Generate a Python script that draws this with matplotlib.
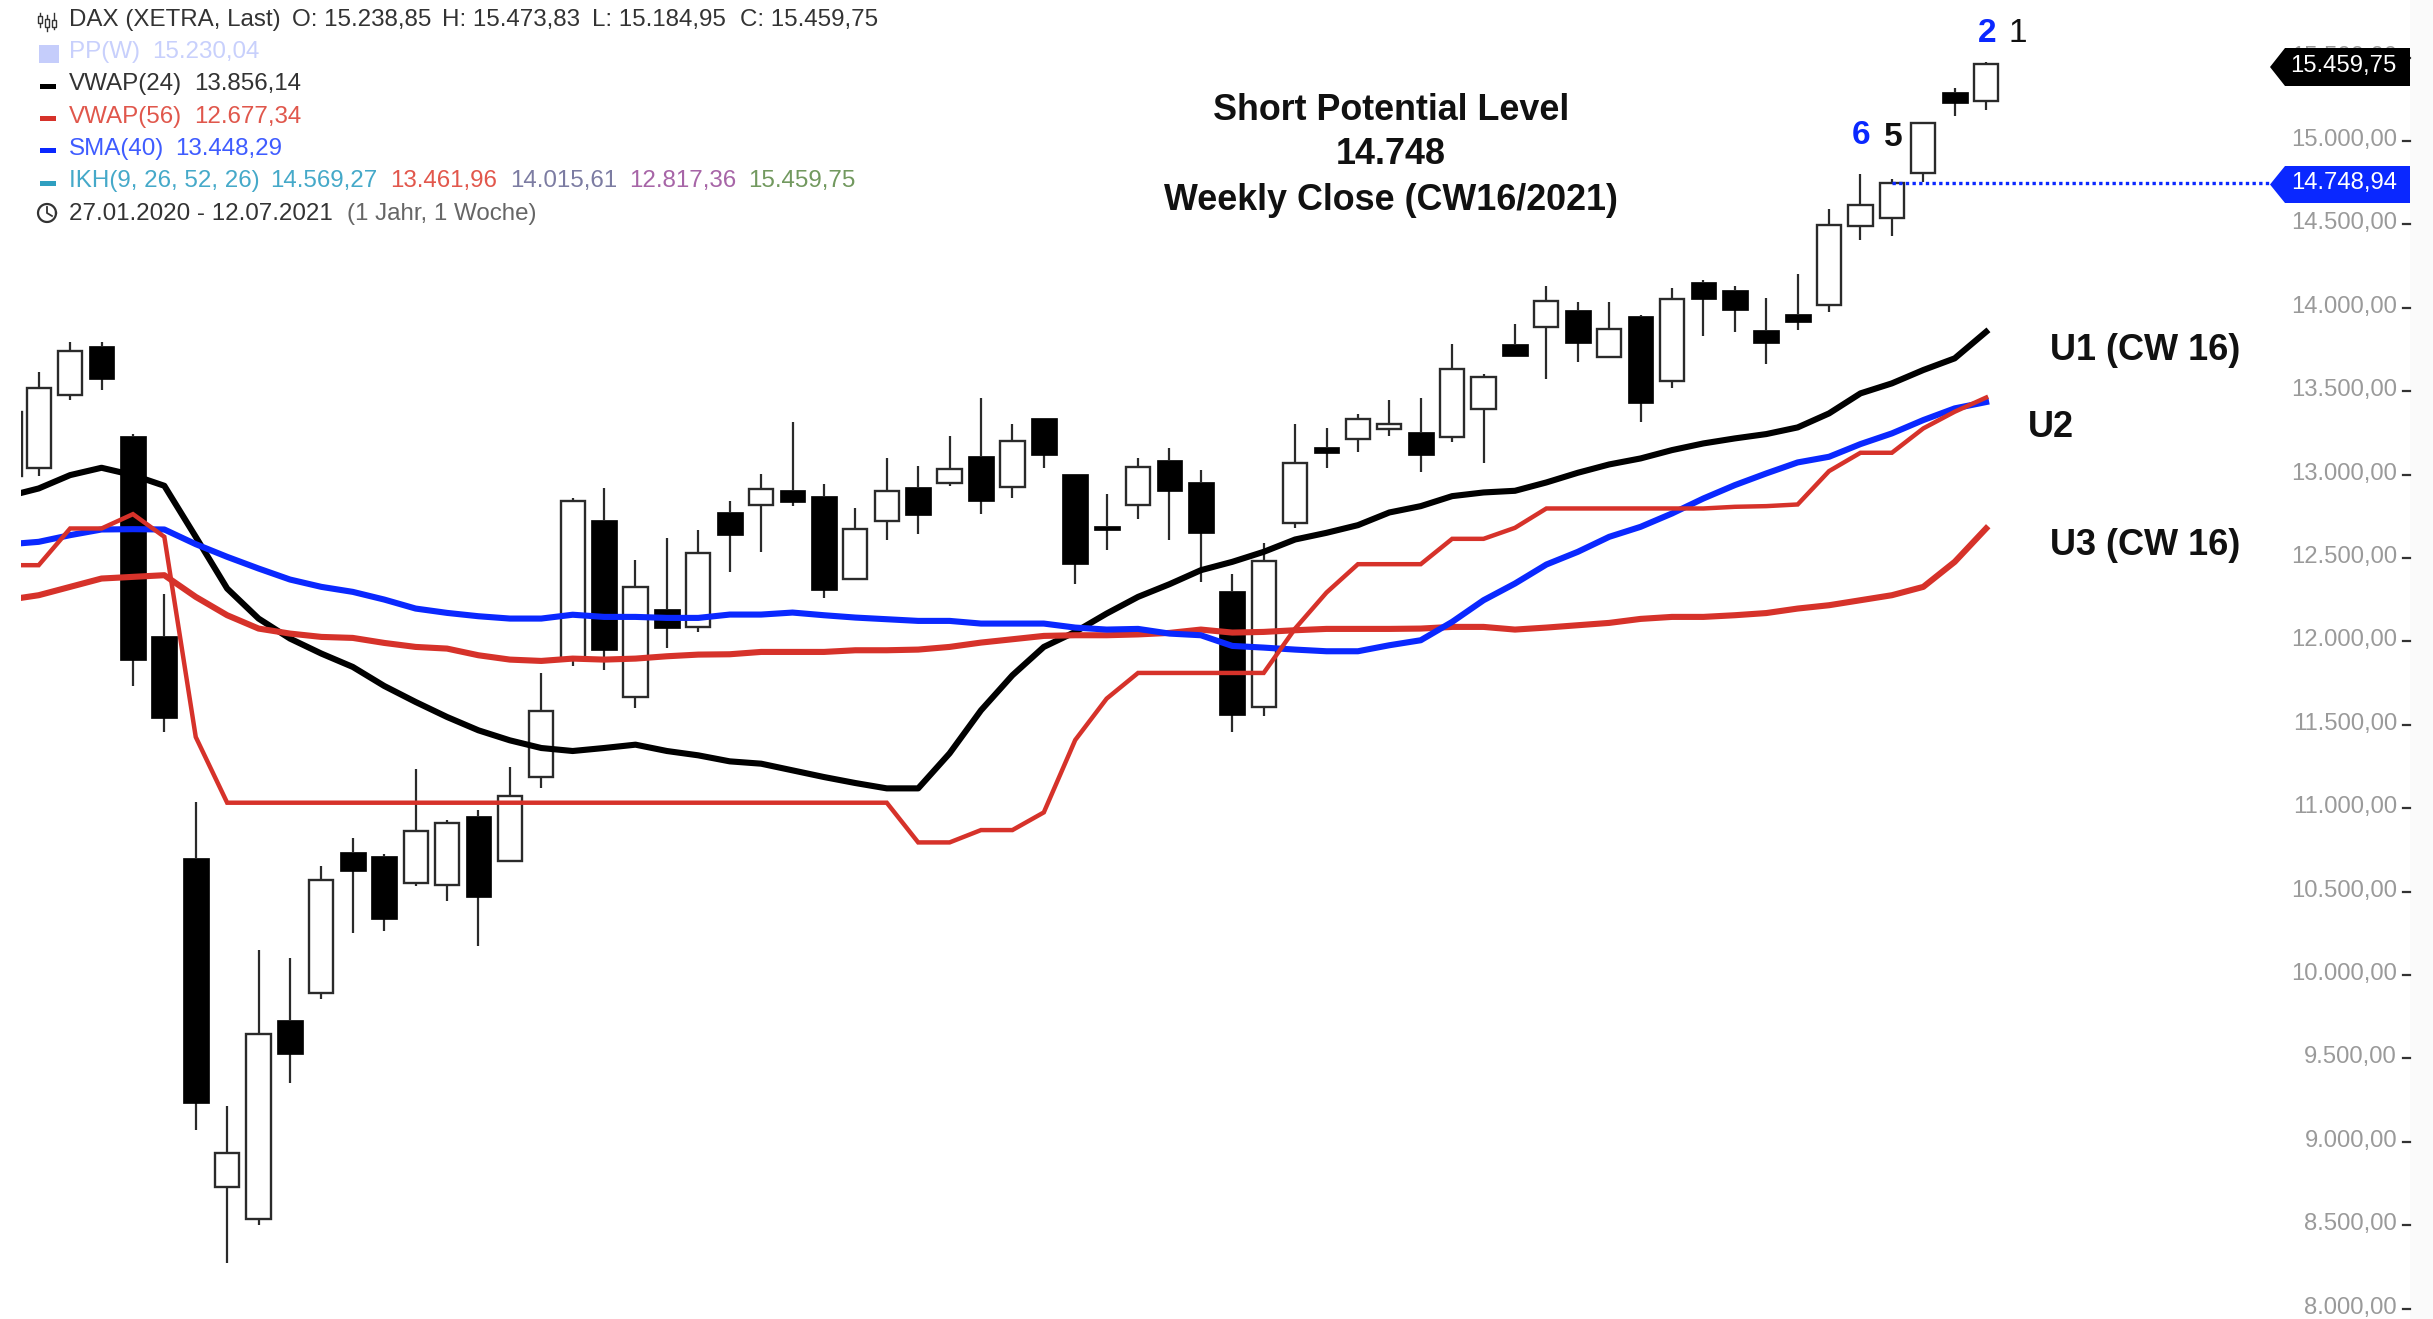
from matplotlib import pyplot as plt
from matplotlib.patches import Rectangle, Polygon
import numpy as np

plt.rcParams['font.family'] = ['Liberation Sans', 'DejaVu Sans']

W = 2433
H = 1319

# weekly candles, the first one is cut off by the left edge
opens = [12990, 13037, 13477, 13771, 13231, 12031, 10699, 8731, 8537, 9730, 9891, 10736, 10711, 10551, 10540, 10953,
         10685, 11187, 11897, 12725, 11667, 12195, 12087, 12773, 12817, 12905, 12869, 12373, 12721, 12927, 12947, 13109,
         12925, 13337, 13001, 12690, 12817, 13085, 12953, 12305, 11607, 12711, 13167, 13211, 13273, 13253, 13223, 13393,
         13781, 13887, 13987, 13705, 13951, 13563, 14153, 14105, 13865, 13961, 14015, 14493, 14541, 14807, 15291, 15238.85]
highs = [13380, 13617, 13793, 13793, 13243, 12283, 11035, 9215, 10149, 10101, 10654, 10819, 10725, 11237, 10928, 10988,
         11247, 11813, 12861, 12917, 12487, 12617, 12667, 12843, 13001, 13313, 12941, 12797, 13097, 13051, 13231, 13457,
         13303, 13340, 13005, 12881, 13097, 13157, 13025, 12403, 12593, 13303, 13277, 13363, 13447, 13457, 13783, 13603,
         13903, 14131, 14033, 14033, 13955, 14117, 14167, 14131, 14057, 14203, 14595, 14801, 14775, 15115, 15315, 15473.83]
lows = [12985, 12993, 13447, 13507, 11733, 11457, 9073, 8273, 8500, 9351, 9854, 10250, 10262, 10534, 10441, 10176,
        10680, 11121, 11853, 11831, 11601, 11961, 12057, 12417, 12537, 12811, 12261, 12370, 12607, 12645, 12931, 12765,
        12861, 13041, 12347, 12547, 12731, 12609, 12357, 11457, 11553, 12679, 13041, 13137, 13233, 13017, 13193, 13067,
        13710, 13571, 13677, 13700, 13317, 13521, 13833, 13857, 13665, 13869, 13975, 14405, 14429, 14755, 15151, 15184.95]
closes = [13377, 13517, 13743, 13571, 11891, 11543, 9232, 8935, 9644, 9528, 10567, 10621, 10334, 10866, 10913, 10468,
          11076, 11583, 12843, 11951, 12327, 12083, 12531, 12635, 12915, 12837, 12311, 12675, 12903, 12755, 13035, 12839,
          13203, 13115, 12467, 12670, 13047, 12901, 12647, 11557, 12483, 13071, 13127, 13335, 13301, 13115, 13635, 13587,
          13713, 14043, 13787, 13875, 13427, 14055, 14051, 13989, 13787, 13917, 14497, 14617, 14747, 15109, 15225, 15459.75]

vwap24 = [12873, 12917, 12997, 13041, 12997, 12933, 12627, 12317, 12137, 12017, 11927, 11847, 11733, 11637, 11547, 11467,
          11407, 11361, 11343, 11361, 11381, 11343, 11317, 11281, 11267, 11227, 11187, 11151, 11119, 11119, 11329, 11587,
          11797, 11967, 12057, 12167, 12267, 12343, 12427, 12477, 12537, 12611, 12651, 12697, 12773, 12811, 12871, 12893,
          12903, 12953, 13011, 13061, 13097, 13147, 13187, 13217, 13243, 13283, 13367, 13487, 13547, 13627, 13697, 13856.14]
vwap56 = [12251, 12277, 12327, 12377, 12387, 12397, 12267, 12157, 12077, 12047, 12027, 12021, 11991, 11967, 11957, 11917,
          11891, 11883, 11897, 11891, 11897, 11911, 11921, 11923, 11937, 11937, 11937, 11947, 11947, 11951, 11967, 11993,
          12013, 12033, 12037, 12037, 12042, 12051, 12071, 12053, 12057, 12067, 12075, 12075, 12075, 12077, 12087, 12087,
          12071, 12083, 12097, 12111, 12135, 12147, 12147, 12157, 12170, 12197, 12217, 12247, 12277, 12327, 12477, 12677.34]
sma40 = [12583, 12597, 12637, 12671, 12673, 12671, 12583, 12507, 12437, 12371, 12327, 12297, 12251, 12197, 12171, 12151,
         12137, 12137, 12160, 12147, 12147, 12141, 12141, 12161, 12161, 12173, 12157, 12143, 12133, 12123, 12123, 12107,
         12107, 12107, 12083, 12071, 12075, 12047, 12037, 11973, 11963, 11951, 11941, 11941, 11977, 12007, 12117, 12247,
         12347, 12461, 12537, 12627, 12687, 12767, 12857, 12937, 13007, 13073, 13107, 13183, 13247, 13327, 13397, 13435]
ikh_kijun = [12457, 12457, 12677, 12677, 12763, 12627, 11427, 11033, 11033, 11033, 11033, 11033, 11033, 11033, 11033, 11033,
             11033, 11033, 11033, 11033, 11033, 11033, 11033, 11033, 11033, 11033, 11033, 11033, 11033, 10795, 10795, 10869,
             10869, 10975, 11409, 11657, 11811, 11811, 11811, 11811, 11811, 12077, 12293, 12463, 12463, 12463, 12615, 12615,
             12681, 12797, 12797, 12797, 12797, 12797, 12797, 12807, 12811, 12821, 13021, 13131, 13131, 13277, 13377, 13461.96]

y_ticks = [8000, 8500, 9000, 9500, 10000, 10500, 11000, 11500, 12000, 12500, 13000, 13500, 14000, 14500, 15000, 15500]
last_price = 15459.75
short_level = 14748.94

BLACK = '#000000'
RED = '#d6322a'
BLUE = '#0a28ff'
EDGE = '#2a2a2a'

# pixel helpers, the layout is measured in pixels of the reference
def fx(x):
    return x / W

def fy(y):
    return 1 - y / H

def label(x, y, s, color='#333333', size=17.4, **kw):
    fig.text(fx(x), fy(y), s, color=color, fontsize=size, va='center', **kw)

def de_number(t):
    return f'{t:,.2f}'.replace(',', 'X').replace('.', ',').replace('X', '.')

fig = plt.figure(figsize=(W / 100, H / 100), dpi=100, facecolor='white')

left = 21
right = 2410
ax = fig.add_axes([fx(left), 0, fx(right - left), 1])
ax.set_xlim((left - 38.7) / 31.41, (right - 38.7) / 31.41)
ax.set_ylim(15000 - (H - 141) * 5.995, 15000 + 141 * 5.995)
for s in ax.spines.values():
    s.set_visible(False)
ax.set_xticks([])
ax.set_yticks([])
ax.patch.set_alpha(0)

xs = np.arange(len(opens), dtype=float) - 1
xs[0] = -0.92

# candles
for i in range(len(opens)):
    top = max(opens[i], closes[i])
    bottom = min(opens[i], closes[i])
    ax.plot([xs[i], xs[i]], [highs[i], top], color=EDGE, lw=1.6, solid_capstyle='butt', zorder=2)
    ax.plot([xs[i], xs[i]], [bottom, lows[i]], color=EDGE, lw=1.6, solid_capstyle='butt', zorder=2)
    if closes[i] >= opens[i]:
        ax.add_patch(Rectangle((xs[i] - 0.385, bottom), 0.77, top - bottom, facecolor='white', edgecolor=EDGE, lw=1.7, zorder=3))
    else:
        ax.add_patch(Rectangle((xs[i] - 0.41, bottom), 0.82, top - bottom, facecolor=BLACK, edgecolor=BLACK, lw=0.5, zorder=3))

# indicator lines
ax.plot(xs, vwap24, color=BLACK, lw=4.4, zorder=4, solid_joinstyle='round')
ax.plot(xs, vwap56, color=RED, lw=4.4, zorder=5, solid_joinstyle='round')
ax.plot(xs, sma40, color=BLUE, lw=4.4, zorder=6, solid_joinstyle='round')
ax.plot(xs, ikh_kijun, color=RED, lw=3.2, zorder=7, solid_joinstyle='miter')

# dotted short level from the candle out to the price tag
ax.plot([xs[60], (2272 - 38.7) / 31.41], [short_level, short_level], color=BLUE, lw=2.4, linestyle=(0, (1, 1)), zorder=8)

# right hand scale, drawn in front of the chart area
fig.add_artist(Rectangle((fx(2410), 0), fx(23), 1, transform=fig.transFigure, facecolor='#fafafa', edgecolor='none'))
for t in y_ticks:
    py = (15000 + 141 * 5.995 - t) / 5.995
    label(2397, py - 1, de_number(t), color='#9a9a9a', size=17.2, ha='right')
    fig.add_artist(plt.Line2D([fx(2403), fx(2410)], [fy(py), fy(py)], color='#333333', lw=1.6))

# price tags
def tag(y0, y1, color, s):
    mid = (y0 + y1) / 2
    pts = [(2270, mid), (2285, y0), (2410, y0), (2410, y1), (2285, y1)]
    fig.add_artist(Polygon([(fx(a), fy(b)) for a, b in pts], closed=True, transform=fig.transFigure, facecolor=color, edgecolor='none', zorder=10))
    fig.text(fx(2397), fy(mid - 1), s, color='white', fontsize=17.2, ha='right', va='center', zorder=11)

tag(48, 86, BLACK, de_number(last_price))
tag(166, 203, BLUE, de_number(short_level))

# annotations
label(1391, 110, 'Short Potential Level', color='#111111', size=25.8, ha='center', fontweight='bold')
label(1391, 155, '14.748', color='#111111', size=25.8, ha='center', fontweight='bold')
label(1391, 200, 'Weekly Close (CW16/2021)', color='#111111', size=25.8, ha='center', fontweight='bold')
label(2050, 351, 'U1 (CW 16)', color='#111111', size=26, fontweight='bold')
label(2028, 427, 'U2', color='#111111', size=26, fontweight='bold')
label(2050, 545, 'U3 (CW 16)', color='#111111', size=26, fontweight='bold')
label(1987, 33, '2', color=BLUE, size=24, ha='center', fontweight='bold')
label(2018, 33, '1', color='#111111', size=24, ha='center')
label(1861, 136, '6', color=BLUE, size=24, ha='center', fontweight='bold')
label(1893, 138, '5', color='#111111', size=24, ha='center', fontweight='bold')

# legend block
label(69, 20, 'DAX (XETRA, Last)')
label(292, 20, 'O: 15.238,85')
label(442, 20, 'H: 15.473,83')
label(592, 20, 'L: 15.184,95')
label(740, 20, 'C: 15.459,75')
label(69, 52, 'PP(W)', color='#c8d0fc')
label(152, 52, '15.230,04', color='#c8d0fc')
label(69, 84, 'VWAP(24)')
label(194, 84, '13.856,14')
label(69, 117, 'VWAP(56)', color='#e0574c')
label(194, 117, '12.677,34', color='#e0574c')
label(69, 149, 'SMA(40)', color='#3f5cff')
label(175, 149, '13.448,29', color='#3f5cff')
label(69, 181, 'IKH(9, 26, 52, 26)', color='#45a9c9')
label(270, 181, '14.569,27', color='#45a9c9')
label(390, 181, '13.461,96', color='#e2574c')
label(510, 181, '14.015,61', color='#7c7ca2')
label(629, 181, '12.817,36', color='#a765a7')
label(748, 181, '15.459,75', color='#72995f')
label(69, 214, '27.01.2020 - 12.07.2021')
label(347, 214, '(1 Jahr, 1 Woche)', color='#666666')

# legend icons
fig.add_artist(Rectangle((fx(38.5), fy(63)), fx(20.5), 18 / H, transform=fig.transFigure, facecolor='#c5cdfb', edgecolor='none'))
for y, c in [(86, BLACK), (118, RED), (150, BLUE), (183, '#2f9fc0')]:
    fig.add_artist(Rectangle((fx(40), fy(y + 2.5)), fx(16), 5 / H, transform=fig.transFigure, facecolor=c, edgecolor='none'))
for x, y0, y1, b0, b1 in [(40, 13, 27, 16, 23), (47, 15, 31, 19, 27), (54, 13, 29, 20, 27)]:
    fig.add_artist(plt.Line2D([fx(x), fx(x)], [fy(y0), fy(y1)], color='#333333', lw=1))
    fig.add_artist(Rectangle((fx(x - 2), fy(b1)), fx(4), (b1 - b0) / H, transform=fig.transFigure, facecolor='white', edgecolor='#333333', lw=1, zorder=3))
angles = np.linspace(0, 6.3, 40)
fig.add_artist(plt.Line2D(fx(47) + 9 / W * np.cos(angles), fy(213) + 9 / H * np.sin(angles), color='#333333', lw=1.6))
fig.add_artist(plt.Line2D([fx(47), fx(47), fx(52)], [fy(207), fy(213), fy(216)], color='#333333', lw=1.3))

fig.savefig('out.png', dpi=100)
